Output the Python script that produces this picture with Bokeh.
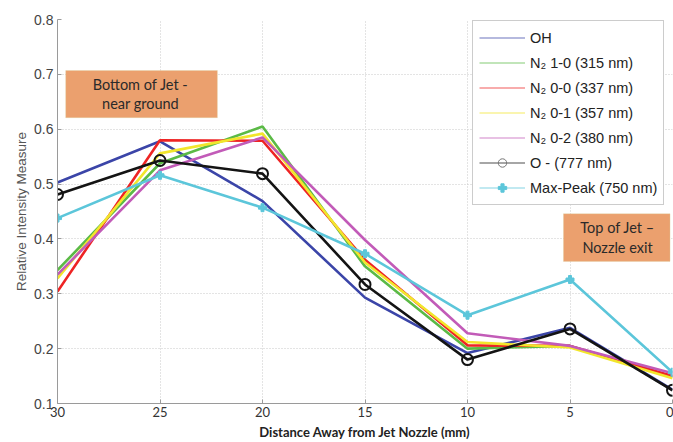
from bokeh.plotting import figure
from bokeh.models import (Range1d, FixedTicker, Legend, LegendItem, BoxAnnotation,
                          Label, NumeralTickFormatter)
from bokeh.embed import file_html
from bokeh.resources import INLINE

distance = [30, 25, 20, 15, 10, 5, 0]
oh = [0.503, 0.578, 0.469, 0.293, 0.192, 0.238, 0.125]
n2_10 = [0.343, 0.538, 0.605, 0.350, 0.200, 0.205, 0.148]
n2_00 = [0.304, 0.580, 0.579, 0.362, 0.206, 0.205, 0.150]
n2_01 = [0.328, 0.556, 0.592, 0.357, 0.212, 0.202, 0.146]
n2_02 = [0.335, 0.525, 0.585, 0.398, 0.228, 0.205, 0.155]
o_777 = [0.481, 0.543, 0.519, 0.317, 0.180, 0.236, 0.124]
max_peak = [0.438, 0.516, 0.457, 0.373, 0.261, 0.326, 0.157]

series_names = ["OH", "N\u2082 1-0 (315 nm)", "N\u2082 0-0 (337 nm)", "N\u2082 0-1 (357 nm)",
                "N\u2082 0-2 (380 nm)", "O - (777 nm)", "Max-Peak (750 nm)"]
series_vals = [oh, n2_10, n2_00, n2_01, n2_02, o_777, max_peak]
colors = ["#3B45A8", "#5BBA46", "#EE2424", "#F2E62C", "#C25BB8", "#141414", "#5CC6DA"]

x_ticks = [0, 5, 10, 15, 20, 25, 30]
y_ticks = [0.1, 0.2, 0.3, 0.4, 0.5, 0.6, 0.7, 0.8]

p = figure(width=673, height=442, output_backend="svg", toolbar_location=None,
           x_range=Range1d(30, 0), y_range=Range1d(0.1, 0.8),
           min_border_left=57, min_border_right=1, min_border_top=19, min_border_bottom=39)
p.outline_line_color = None
p.background_fill_color = "white"
p.border_fill_color = "white"

for ax in (p.xaxis[0], p.yaxis[0]):
    ax.axis_line_color = "#9a9a9a"
    ax.major_tick_line_color = "#9a9a9a"
    ax.major_tick_in = 4
    ax.major_tick_out = 0
    ax.minor_tick_line_color = None

p.xaxis.ticker = FixedTicker(ticks=x_ticks)
p.yaxis.ticker = FixedTicker(ticks=y_ticks)
p.yaxis.formatter = NumeralTickFormatter(format="0.0")

p.xaxis.major_label_text_font = "Lato"
p.xaxis.major_label_text_font_size = "13px"
p.xaxis.major_label_text_color = "#333333"
p.xaxis.major_label_standoff = 3
p.xaxis.axis_label = "Distance Away from Jet Nozzle (mm)"
p.xaxis.axis_label_text_font = "Lato"
p.xaxis.axis_label_text_font_style = "bold"
p.xaxis.axis_label_text_font_size = "13px"
p.xaxis.axis_label_text_color = "#222222"
p.xaxis.axis_label_standoff = 4

p.yaxis.major_label_text_font = "Liberation Sans"
p.yaxis.major_label_text_font_size = "14px"
p.yaxis.major_label_text_color = "#444444"
p.yaxis.major_label_standoff = 4
p.yaxis.axis_label = "Relative Intensity Measure"
p.yaxis.axis_label_text_font = "Liberation Sans"
p.yaxis.axis_label_text_font_style = "normal"
p.yaxis.axis_label_text_font_size = "13.5px"
p.yaxis.axis_label_text_color = "#555555"
p.yaxis.axis_label_standoff = 2

p.grid.grid_line_color = "#c8c8c8"
p.grid.grid_line_dash = "1 2"

# annotation boxes
box1 = BoxAnnotation(left=29.6, right=22.2, top=0.707, bottom=0.621,
                     fill_color="#EBA06E", fill_alpha=1.0, line_color="#d9d4a4", line_width=1,
                     level="underlay")
box2 = BoxAnnotation(left=5.32, right=0.12, top=0.446, bottom=0.359,
                     fill_color="#EBA06E", fill_alpha=1.0, line_color="#d9d4a4", line_width=1,
                     level="underlay")
p.add_layout(box1)
p.add_layout(box2)
for txt, xx, yy in [("Bottom of Jet -", 25.95, 0.681), ("near ground", 25.95, 0.646),
                    ("Top of Jet \u2013", 2.68, 0.421), ("Nozzle exit", 2.68, 0.384)]:
    p.add_layout(Label(x=xx, y=yy, text=txt, text_font="Lato", text_font_size="14.5px",
                       text_color="#2a2a2a", text_align="center", text_baseline="middle"))

# data lines
for vals, c in zip(series_vals, colors):
    p.line(distance, vals, line_color=c, line_width=2.6)
p.scatter(distance, o_777, marker="circle", size=11, fill_color=None,
          line_color=colors[5], line_width=2)
p.scatter(distance, max_peak, marker="plus", size=8, fill_color=colors[6],
          line_color=colors[6], line_width=1)

# legend proxies (thin lines as in the reference legend); NaN data draws nothing in the plot
nan = float("nan")
items = []
for name, c in zip(series_names, colors):
    r = [p.line([nan], [nan], line_color=c, line_width=1.2, line_alpha=0.75)]
    if name.startswith("O -"):
        r.append(p.scatter([nan], [nan], marker="circle", size=9, fill_color=None,
                           line_color="#777777", line_width=1))
    if name.startswith("Max"):
        r.append(p.scatter([nan], [nan], marker="plus", size=7, fill_color=c, line_color=c))
    items.append(LegendItem(label=name, renderers=r))

legend = Legend(items=items, location=(415, 198), background_fill_color="white",
                background_fill_alpha=1.0, border_line_color="#9a9a9a", border_line_width=1,
                label_text_font="Liberation Sans", label_text_font_size="14.5px",
                label_text_color="#222222", label_height=21, glyph_height=21, glyph_width=46,
                spacing=4, padding=6, margin=0, label_standoff=5)
p.add_layout(legend)

open("out.html", "w").write(file_html(p, INLINE))
